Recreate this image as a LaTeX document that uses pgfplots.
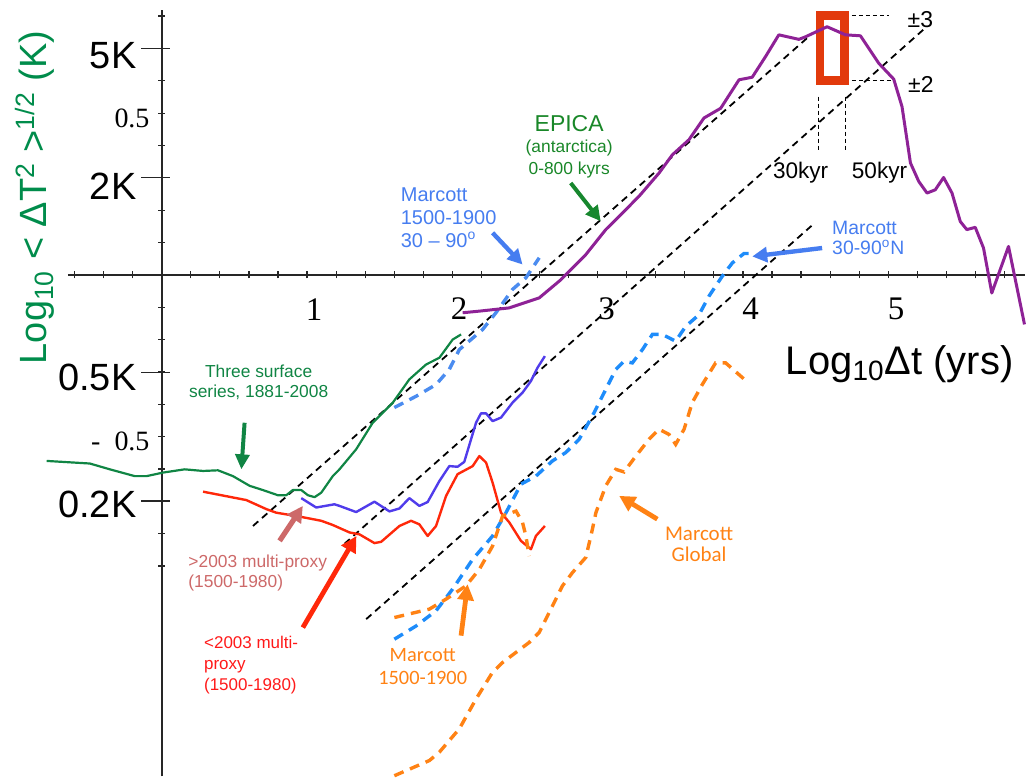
\documentclass[border=0pt]{standalone}
\usepackage{pgfplots}
\pgfplotsset{compat=1.18}
\usepackage{fontspec}
\setmainfont{Liberation Sans}
\newfontfamily\seriffont{Liberation Serif}
\newfontfamily\calfont{Carlito}
\usetikzlibrary{arrows.meta}
\newcommand{\fs}[2]{\fontsize{#1}{#2}\selectfont}
\definecolor{epicaP}{RGB}{142,34,150}
\definecolor{tgreen}{RGB}{16,133,68}
\definecolor{egreen}{RGB}{25,135,40}
\definecolor{ylab}{RGB}{0,140,75}
\definecolor{bluesolid}{RGB}{80,60,235}
\definecolor{redsolid}{RGB}{255,40,10}
\definecolor{mblue}{RGB}{30,140,250}
\definecolor{mblue2}{RGB}{75,140,240}
\definecolor{morange}{RGB}{255,130,20}
\definecolor{rosy}{RGB}{205,105,105}
\definecolor{rbox}{RGB}{226,58,12}
\definecolor{mtext}{RGB}{70,125,240}
\definecolor{redtext}{RGB}{255,25,25}
\begin{document}
\begin{tikzpicture}
\begin{axis}[
  x=72.75pt, y=162pt,
  xmin=-0.646, xmax=5.938, ymin=-1.55, ymax=0.82,
  axis lines=middle,
  axis line style={-, line width=0.9pt, black!85},
  xtick={-0.6,-0.4,...,5.81},
  ytick={-0.9,-0.8,...,0.81},
  xticklabels={}, yticklabels={},
  tick label style={opacity=0},
  major tick length=3.5pt,
  tick align=center,
  tick style={black!85, line width=0.6pt},
  clip=false,
]
% bounding box of the whole picture
\path (axis cs:-1.1134,0.8497) rectangle (axis cs:5.938,-1.5515);

% extended major ticks
\draw[black!85, line width=0.7pt] (axis cs:-0.140,0.699) -- (axis cs:0.055,0.699);
\draw[black!85, line width=0.7pt] (axis cs:-0.140,0.301) -- (axis cs:0.055,0.301);
\draw[black!85, line width=0.7pt] (axis cs:-0.140,-0.301) -- (axis cs:0.055,-0.301);
\draw[black!85, line width=0.7pt] (axis cs:-0.140,-0.699) -- (axis cs:0.055,-0.699);

% reference dashed lines
\addplot[black, line width=0.9pt, dash pattern=on 3.5pt off 2.5pt] coordinates {(0.628,-0.776) (4.442,0.732)};
\addplot[black, line width=0.9pt, dash pattern=on 3.5pt off 2.5pt] coordinates {(1.258,-0.831) (5.267,0.768)};
\addplot[black, line width=0.9pt, dash pattern=on 3.5pt off 2.5pt] coordinates {(1.407,-1.064) (4.488,0.158)};

% thin dashed guides
\draw[black, line width=0.4pt, dash pattern=on 2pt off 1.5pt] (axis cs:4.509,0.803) -- (axis cs:5.003,0.803);
\draw[black, line width=0.4pt, dash pattern=on 2pt off 1.5pt] (axis cs:4.509,0.601) -- (axis cs:5.024,0.601);
\draw[black, line width=0.4pt, dash pattern=on 2pt off 1.5pt] (axis cs:4.518,0.551) -- (axis cs:4.518,0.381);
\draw[black, line width=0.4pt, dash pattern=on 2pt off 1.5pt] (axis cs:4.706,0.551) -- (axis cs:4.706,0.381);

% red box
\draw[rbox, line width=4.3pt] (axis cs:4.531,0.802) rectangle (axis cs:4.698,0.600);

% Three surface series (green)
\addplot[tgreen, line width=1.1pt, line join=round] coordinates {
(-0.792,-0.575) (-0.495,-0.583) (-0.357,-0.601) (-0.186,-0.622) (-0.105,-0.622)
(0.009,-0.611) (0.158,-0.601) (0.284,-0.606) (0.387,-0.604) (0.490,-0.622)
(0.605,-0.652) (0.696,-0.665) (0.799,-0.681) (0.857,-0.681) (0.902,-0.665)
(0.960,-0.665) (1.006,-0.681) (1.052,-0.687) (1.098,-0.673) (1.177,-0.622)
(1.223,-0.601) (1.338,-0.539) (1.452,-0.457) (1.590,-0.395) (1.704,-0.323)
(1.819,-0.277) (1.911,-0.256) (2.002,-0.200) (2.060,-0.184)};

% Marcott 1500-1900 30-90 (blue dashed, upper)
\addplot[mblue2, line width=1.7pt, dash pattern=on 5pt off 3.5pt] coordinates {
(1.601,-0.410) (1.751,-0.375) (1.888,-0.339) (1.979,-0.292) (2.048,-0.231)
(2.208,-0.169) (2.300,-0.117) (2.414,-0.045) (2.506,-0.009) (2.598,0.053)};

% EPICA (purple)
\addplot[epicaP, line width=1.5pt, line join=round] coordinates {
(2.071,-0.117) (2.186,-0.112) (2.392,-0.102) (2.598,-0.071) (2.747,-0.015)
(2.781,0.001) (2.919,0.063) (3.056,0.140) (3.170,0.191) (3.285,0.243)
(3.423,0.315) (3.514,0.371) (3.629,0.418) (3.732,0.485) (3.847,0.515)
(3.973,0.603) (4.064,0.611) (4.156,0.675) (4.247,0.742) (4.385,0.728)
(4.431,0.736) (4.579,0.767) (4.706,0.742) (4.809,0.739) (4.935,0.654)
(5.038,0.605) (5.095,0.520) (5.153,0.346) (5.210,0.289) (5.267,0.253)
(5.324,0.263) (5.381,0.301) (5.439,0.253) (5.496,0.165) (5.541,0.140)
(5.599,0.147) (5.656,0.083) (5.713,-0.056) (5.828,0.088) (5.938,-0.153)};

% >2003 multi-proxy (blue solid)
\addplot[bluesolid, line width=1.2pt, line join=round] coordinates {
(0.960,-0.690) (1.063,-0.719) (1.189,-0.709) (1.223,-0.714) (1.338,-0.733)
(1.464,-0.701) (1.567,-0.731) (1.636,-0.722) (1.704,-0.690) (1.773,-0.714)
(1.830,-0.702) (1.911,-0.637) (1.979,-0.591) (2.036,-0.593) (2.082,-0.578)
(2.163,-0.457) (2.197,-0.428) (2.232,-0.428) (2.277,-0.452) (2.335,-0.441)
(2.414,-0.395) (2.483,-0.364) (2.541,-0.328) (2.586,-0.287) (2.637,-0.251)};

% <2003 multi-proxy (red solid)
\addplot[redsolid, line width=1.2pt, line join=round] coordinates {
(0.284,-0.670) (0.582,-0.696) (0.720,-0.724) (0.788,-0.735) (0.948,-0.747)
(1.098,-0.760) (1.177,-0.773) (1.292,-0.796) (1.361,-0.802) (1.464,-0.829)
(1.510,-0.825) (1.636,-0.776) (1.716,-0.760) (1.773,-0.771) (1.830,-0.807)
(1.888,-0.776) (1.957,-0.683) (2.036,-0.616) (2.140,-0.591) (2.186,-0.560)
(2.232,-0.580) (2.277,-0.642) (2.335,-0.735) (2.392,-0.765) (2.472,-0.822)
(2.541,-0.848) (2.575,-0.807) (2.637,-0.776)};

% Marcott 30-90N (blue dashed, lower)
\addplot[mblue, line width=1.7pt, dash pattern=on 5pt off 3.5pt] coordinates {
(1.601,-1.126) (1.751,-1.085) (1.888,-1.038) (2.002,-0.971) (2.140,-0.879)
(2.277,-0.807) (2.369,-0.735) (2.472,-0.647) (2.575,-0.622) (2.689,-0.575)
(2.781,-0.549) (2.873,-0.508) (2.964,-0.436) (3.056,-0.354) (3.125,-0.292)
(3.182,-0.267) (3.239,-0.272) (3.308,-0.231) (3.377,-0.184) (3.445,-0.184)
(3.537,-0.205) (3.606,-0.159) (3.698,-0.123) (3.766,-0.066) (3.858,-0.004)
(3.927,0.037) (4.007,0.066) (4.053,0.066)};

% Marcott 1500-1900 (orange dashed)
\addplot[morange, line width=1.7pt, dash pattern=on 5pt off 3.5pt] coordinates {
(1.601,-1.059) (1.842,-1.033) (1.957,-1.002) (2.094,-0.961) (2.186,-0.910)
(2.277,-0.838) (2.346,-0.745) (2.438,-0.730) (2.483,-0.765) (2.506,-0.807)
(2.529,-0.869)};

% Marcott Global (orange dashed)
\addplot[morange, line width=1.7pt, dash pattern=on 5pt off 3.5pt] coordinates {
(1.601,-1.548) (1.842,-1.501) (1.911,-1.475) (2.048,-1.403) (2.163,-1.311)
(2.277,-1.228) (2.346,-1.198) (2.529,-1.136) (2.598,-1.105) (2.667,-1.043)
(2.758,-0.961) (2.827,-0.920) (2.919,-0.873) (2.964,-0.786) (2.988,-0.735)
(3.056,-0.652) (3.125,-0.601) (3.182,-0.609) (3.263,-0.560) (3.354,-0.508)
(3.423,-0.477) (3.491,-0.493) (3.537,-0.524) (3.595,-0.477) (3.651,-0.395)
(3.720,-0.339) (3.812,-0.272) (3.881,-0.272) (4.041,-0.335)};

% arrows
\draw[egreen!80!tgreen, line width=2pt, -{Triangle[length=7.5pt,width=7.5pt]}] (axis cs:2.815,0.284) -- (axis cs:3.021,0.166);
\draw[mtext, line width=2.2pt, -{Triangle[length=7.5pt,width=7.5pt]}] (axis cs:2.277,0.130) -- (axis cs:2.483,0.032);
\draw[mtext, line width=2.2pt, -{Triangle[length=7.5pt,width=7.5pt]}] (axis cs:4.545,0.083) -- (axis cs:4.064,0.057);
\draw[tgreen, line width=2pt, -{Triangle[length=7.5pt,width=7pt]}] (axis cs:0.570,-0.457) -- (axis cs:0.548,-0.601);
\draw[rosy, line width=2.6pt, -{Triangle[length=8pt,width=8pt]}] (axis cs:0.811,-0.822) -- (axis cs:0.971,-0.714);
\draw[redsolid, line width=2.4pt, -{Triangle[length=8pt,width=8pt]}] (axis cs:0.971,-1.090) -- (axis cs:1.340,-0.807);
\draw[morange, line width=2.4pt, -{Triangle[length=8pt,width=8pt]}] (axis cs:2.060,-1.115) -- (axis cs:2.105,-0.956);
\draw[morange, line width=2.4pt, -{Triangle[length=8pt,width=8pt]}] (axis cs:3.411,-0.755) -- (axis cs:3.148,-0.683);

% tick labels
\node[anchor=east, inner sep=0pt, font=\fs{19}{19}] at (axis cs:-0.172,0.677) {5K};
\node[anchor=east, inner sep=0pt, font=\fs{19}{19}] at (axis cs:-0.172,0.273) {2K};
\node[anchor=east, inner sep=0pt, font=\fs{19}{19}] at (axis cs:-0.172,-0.317) {0.5K};
\node[anchor=east, inner sep=0pt, font=\fs{19}{19}] at (axis cs:-0.172,-0.709) {0.2K};
\node[anchor=east, inner sep=0pt, font=\seriffont\fs{14}{14}] at (axis cs:-0.082,0.485) {0.5};
\node[anchor=east, inner sep=0pt, font=\seriffont\fs{14}{14}] at (axis cs:-0.082,-0.514) {-\ \ 0.5};
\node[inner sep=0pt, font=\seriffont\fs{16.5}{16.5}] at (axis cs:1.049,-0.108) {1};
\node[inner sep=0pt, font=\seriffont\fs{16.5}{16.5}] at (axis cs:2.046,-0.104) {2};
\node[inner sep=0pt, font=\seriffont\fs{16.5}{16.5}] at (axis cs:3.062,-0.104) {3};
\node[inner sep=0pt, font=\seriffont\fs{16.5}{16.5}] at (axis cs:4.053,-0.104) {4};
\node[inner sep=0pt, font=\seriffont\fs{16.5}{16.5}] at (axis cs:5.055,-0.104) {5};

% axis titles
\node[anchor=base west, inner sep=0pt, font=\fs{20}{20}] at (axis cs:4.293,-0.308) {Log\textsubscript{10}Δt (yrs)};
\node[anchor=base west, rotate=90, inner sep=0pt, font=\fs{19}{19}, text=ylab] at (axis cs:-0.790,-0.277) {Log\textsubscript{10} < ΔT\textsuperscript{2} >\textsuperscript{1/2} (K)};

% annotations
\node[anchor=west, align=left, inner sep=0pt, font=\fs{10}{11.5}, text=mtext] at (axis cs:1.643,0.178) {Marcott\\1500-1900\\30 -- 90\textsuperscript{o}};
\node[inner sep=0pt, font=\fs{11.5}{11.5}, text=egreen] at (axis cs:2.804,0.467) {EPICA};
\node[inner sep=0pt, font=\fs{8.7}{8.7}, text=egreen] at (axis cs:2.804,0.392) {(antarctica)};
\node[inner sep=0pt, font=\fs{8.7}{8.7}, text=egreen] at (axis cs:2.804,0.325) {0-800 kyrs};
\node[inner sep=0pt, font=\fs{11.5}{11.5}] at (axis cs:5.221,0.788) {±3};
\node[inner sep=0pt, font=\fs{11.5}{11.5}] at (axis cs:5.225,0.587) {±2};
\node[inner sep=0pt, font=\fs{11.3}{11.3}] at (axis cs:4.397,0.315) {30kyr};
\node[inner sep=0pt, font=\fs{11.3}{11.3}] at (axis cs:4.940,0.315) {50kyr};
\node[anchor=west, align=left, inner sep=0pt, font=\fs{9.7}{10}, text=mtext] at (axis cs:4.612,0.114) {Marcott\\30-90\textsuperscript{o}N};
\node[align=center, inner sep=0pt, font=\fs{8.7}{10}, text=tgreen] at (axis cs:0.667,-0.333) {Three surface\\series, 1881-2008};
\node[anchor=west, align=left, inner sep=0pt, font=\fs{8.7}{10}, text=rosy] at (axis cs:0.181,-0.920) {>2003 multi-proxy\\(1500-1980)};
\node[anchor=west, align=left, inner sep=0pt, font=\fs{8.5}{10.5}, text=redtext] at (axis cs:0.289,-1.206) {<2003 multi-\\proxy\\(1500-1980)};
\node[align=center, inner sep=0pt, font=\calfont\fs{10.2}{11.7}, text=morange] at (axis cs:1.796,-1.211) {Marcott\\1500-1900};
\node[align=center, inner sep=0pt, font=\calfont\fs{10.5}{10.5}, text=morange] at (axis cs:3.698,-0.834) {Marcott\\Global};
\end{axis}
\end{tikzpicture}
\end{document}
